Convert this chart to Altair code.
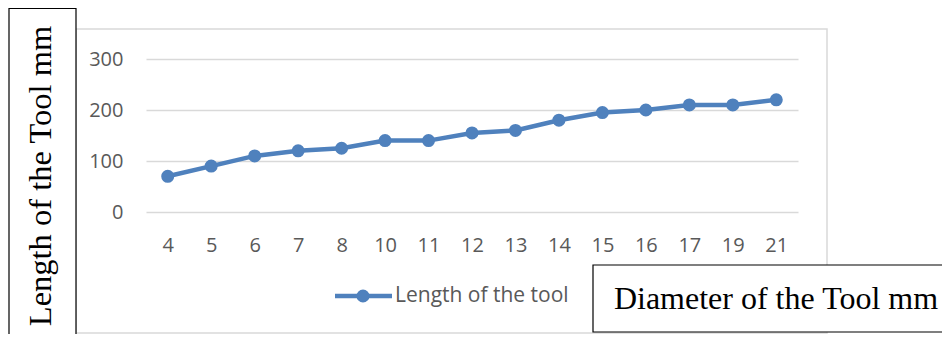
import altair as alt
import pandas as pd

diameters = ["4", "5", "6", "7", "8", "10", "11", "12", "13", "14", "15", "16", "17", "19", "21"]
lengths = [70, 90, 110, 120, 125, 140, 140, 155, 160, 180, 195, 200, 210, 210, 220]
y_ticks = [0, 100, 200, 300]
series_name = "Length of the tool"
y_title = "Length of the Tool mm"
x_title = "Diameter of the Tool mm"

df = pd.DataFrame({"d": diameters, "len": lengths})

W, H = 652, 153
BLUE = "#4f81bd"
GRAY = "#d9d9d9"
TXT = "#595959"

x_enc = alt.X("d:N", sort=diameters, scale=alt.Scale(type="point", padding=0.5),
              axis=alt.Axis(title=None, labelAngle=0, labelFontSize=20, labelColor=TXT,
                            labelFont="Open Sans", ticks=False, domain=False, labelPadding=23,
                            grid=False))
y_enc = alt.Y("len:Q", scale=alt.Scale(domain=[0, 300]),
              axis=alt.Axis(title=None, values=y_ticks, labelFontSize=20, labelColor=TXT,
                            labelFont="Open Sans", ticks=False, domain=False, labelPadding=23,
                            gridColor=GRAY, gridWidth=1.5))

base = alt.Chart(df)
line = base.mark_line(color=BLUE, strokeWidth=4.5).encode(x=x_enc, y=y_enc)
pts = base.mark_point(filled=True, color=BLUE, size=170, opacity=1).encode(x=x_enc, y=y_enc)

one = alt.Chart(pd.DataFrame({"k": [0]}))
outer = one.mark_rect(fill=None, stroke=GRAY, strokeWidth=1.5, clip=False).encode(
    x=alt.value(-70), x2=alt.value(681), y=alt.value(-30), y2=alt.value(274))
ybox = one.mark_rect(fill="white", stroke="black", strokeWidth=1.2, clip=False).encode(
    x=alt.value(-137), x2=alt.value(-70), y=alt.value(-50.5), y2=alt.value(290))
ytext = one.mark_text(text=y_title, angle=270, font="Liberation Serif", fontSize=32.5,
                      color="black", align="center", baseline="middle").encode(
    x=alt.value(-105), y=alt.value(117))
xbox = one.mark_rect(fill="white", stroke="black", strokeWidth=1.2, clip=False).encode(
    x=alt.value(447), x2=alt.value(814), y=alt.value(206), y2=alt.value(273))
xtext = one.mark_text(text=x_title, font="Liberation Serif", fontSize=32,
                      color="black", align="center", baseline="middle").encode(
    x=alt.value(630), y=alt.value(240))
leg_line = one.mark_rule(color=BLUE, strokeWidth=4.5).encode(
    x=alt.value(189), x2=alt.value(246), y=alt.value(237))
leg_pt = one.mark_point(filled=True, color=BLUE, size=170, opacity=1).encode(
    x=alt.value(217), y=alt.value(237))
leg_text = one.mark_text(text=series_name, font="Open Sans", fontSize=21, color=TXT,
                         align="left", baseline="middle").encode(
    x=alt.value(249), y=alt.value(237))

chart = alt.layer(outer, line, pts, ybox, ytext, xbox, xtext, leg_line, leg_pt, leg_text).properties(
    width=W, height=H,
    autosize=alt.AutoSizeParams(type="none"),
    padding={"left": 138, "top": 51, "right": 144, "bottom": 122},
).configure_view(stroke=None)

chart.save("out.html", embed_options={"renderer": "svg", "actions": False})
